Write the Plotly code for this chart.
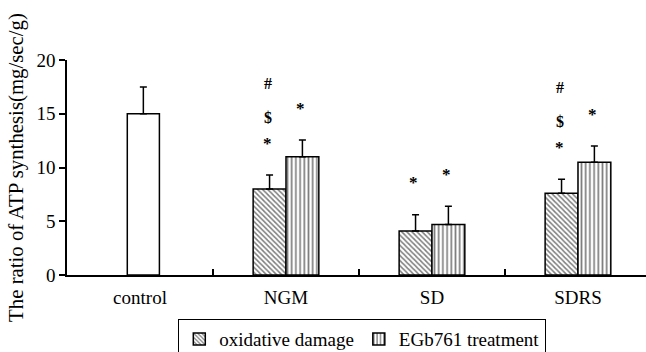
import plotly.graph_objects as go

# ---- data ----
categories = ["control", "NGM", "SD", "SDRS"]
control_value = [15.0]
control_err = [2.5]
treated_groups = ["NGM", "SD", "SDRS"]
oxidative = [8.0, 4.1, 7.6]
oxidative_err = [1.3, 1.5, 1.3]
egb = [11.0, 4.7, 10.5]
egb_err = [1.55, 1.7, 1.5]
oxidative_sig = [["*", "$", "#"], ["*"], ["*", "$", "#"]]
egb_sig = [["*"], ["*"], ["*"]]
y_ticks = [0, 5, 10, 15, 20]

FONT = "Liberation Serif, Times New Roman, serif"
BW = 0.225  # bar width (category units)

fig = go.Figure()

fig.add_trace(go.Bar(
    x=["control"], y=control_value, width=0.22, offset=-0.087,
    marker=dict(color="white", line=dict(color="black", width=1.5)),
    error_y=dict(type="data", symmetric=False, array=control_err, arrayminus=[0],
                 color="black", thickness=1.5, width=3.5),
    showlegend=False,
))
fig.add_trace(go.Bar(
    x=treated_groups, y=oxidative, width=BW, offset=-BW, name="oxidative damage",
    marker=dict(color="white", line=dict(color="black", width=1.5),
                pattern=dict(shape="\\", size=3.6, solidity=0.45, fgcolor="black", bgcolor="white")),
    error_y=dict(type="data", symmetric=False, array=oxidative_err, arrayminus=[0]*3,
                 color="black", thickness=1.5, width=3.5),
))
fig.add_trace(go.Bar(
    x=treated_groups, y=egb, width=BW, offset=0, name="EGb761 treatment",
    marker=dict(color="white", line=dict(color="black", width=1.5),
                pattern=dict(shape="|", size=4.2, solidity=0.4, fgcolor="black", bgcolor="white")),
    error_y=dict(type="data", symmetric=False, array=egb_err, arrayminus=[0]*3,
                 color="black", thickness=1.5, width=3.5),
))

# significance marks
shifts = [32, 58, 92]
sizes = {"*": 17, "$": 16, "#": 16}
for vals, errs, sigs, off in [
    (oxidative, oxidative_err, oxidative_sig, -BW / 2),
    (egb, egb_err, egb_sig, BW / 2),
]:
    for i, (v, e, marks) in enumerate(zip(vals, errs, sigs)):
        xi = categories.index(treated_groups[i]) + off
        for k, m in enumerate(marks):
            fig.add_annotation(
                x=xi, y=v + e, xref="x", yref="y", text="<b>" + m + "</b>", showarrow=False,
                yshift=shifts[k], xshift=-2,
                font=dict(family=FONT, size=sizes[m], color="black"),
                yanchor="middle",
            )

fig.update_layout(
    width=646, height=352,
    margin=dict(l=67, r=0, t=60, b=77, autoexpand=False),
    plot_bgcolor="white", paper_bgcolor="white",
    barmode="overlay",
    font=dict(family=FONT, size=19, color="black"),
    showlegend=True,
    legend=dict(orientation="h", x=0.51, xanchor="center", y=-0.205, yanchor="top",
                bordercolor="black", borderwidth=1, bgcolor="white",
                font=dict(family=FONT, size=19, color="black"),
                itemwidth=30),
    xaxis=dict(
        type="category", categoryorder="array", categoryarray=categories,
        range=[-0.5, 3.466], showline=True, linecolor="black", linewidth=1.5,
        ticks="inside", tickson="boundaries", ticklen=6, tickwidth=1.5, tickcolor="black",
        showgrid=False, zeroline=False, ticklabelstandoff=4,
        tickfont=dict(family=FONT, size=19, color="black"),
    ),
    yaxis=dict(
        range=[0, 20], tickvals=y_ticks, ticktext=[str(t) for t in y_ticks],
        showline=True, linecolor="black", linewidth=1.5,
        ticks="outside", ticklen=6, tickwidth=1.5, tickcolor="black",
        showgrid=False, zeroline=False,
        tickfont=dict(family=FONT, size=19, color="black"),
        title=dict(text="The ratio of ATP synthesis(mg/sec/g)",
                   font=dict(family=FONT, size=20.8, color="black"), standoff=7),
    ),
)

fig.write_html("out.html")
